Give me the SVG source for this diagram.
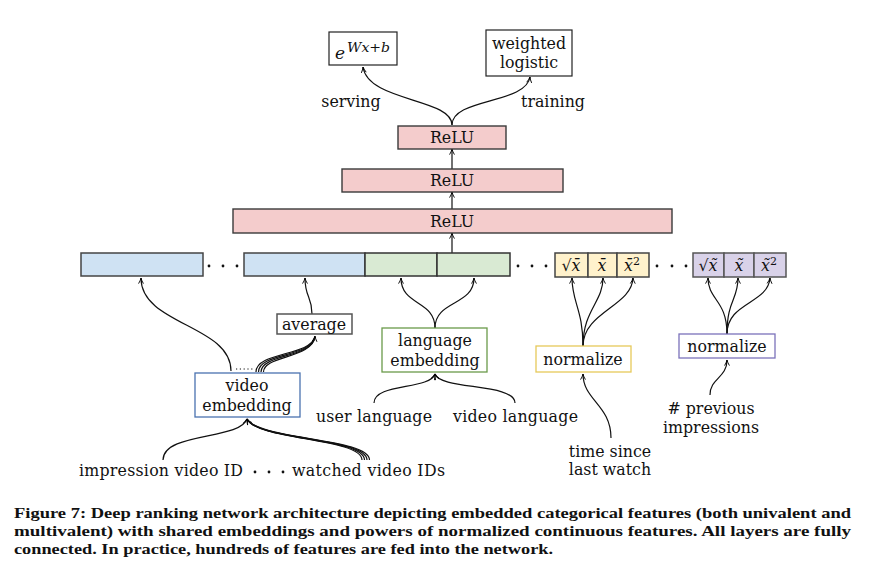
<svg xmlns="http://www.w3.org/2000/svg" width="888" height="571" viewBox="0 0 888 571">
<defs>
<marker id="ah" viewBox="0 0 10 10" refX="9" refY="5" markerWidth="7" markerHeight="7" orient="auto-start-reverse" markerUnits="userSpaceOnUse">
<path d="M1,1.5 Q5,4 9,5 Q5,6 1,8.5" fill="none" stroke="#000" stroke-width="1.3"/>
</marker>
<style>
text{font-family:"DejaVu Serif","Liberation Serif",serif;font-size:15.8px;fill:#111}
.c{text-anchor:middle}
.m{font-style:italic}
.cap{font-family:"Liberation Serif","Times New Roman",serif;font-size:15.5px;font-weight:bold}
.ln{fill:none;stroke:#111;stroke-width:1.2}
.a{marker-end:url(#ah)}
.box{fill:#fff;stroke:#222;stroke-width:1.2}
.relu{fill:#f4cccc;stroke:#3a3a3a;stroke-width:1.4}
.blue{fill:#cfe2f3;stroke:#444;stroke-width:1.5}
.green{fill:#d9ead3;stroke:#333;stroke-width:1.5}
.yellow{fill:#fff2cc;stroke:#444;stroke-width:1.5}
.purple{fill:#d9d2e9;stroke:#555;stroke-width:1.5}
.dot{fill:#111}
</style>
</defs>
<rect width="888" height="571" fill="#fff"/>

<g id="connectors">
<path class="ln a" d="M452,125 C452,98 368,102 363,67"/>
<path class="ln a" d="M452,125 C452,98 526,104 530,77"/>
<path class="ln a" d="M452,169 L452,149"/>
<path class="ln a" d="M452,209 L452,192"/>
<path class="ln a" d="M452,253 L452,233"/>
<path class="ln a" d="M231,371 C231,325 141,325 141,278"/>
<path class="ln a" d="M312,314 C312,296 305,298 305,278"/>
<path class="ln a" d="M435,328 C435,300 401,306 401,278"/>
<path class="ln a" d="M435,328 C435,300 474,306 474,278"/>
<path class="ln" d="M256,372 C256,352 310,356 315,337"/>
<path class="ln" d="M258.5,372 C258.5,353 311,357 315,337"/>
<path class="ln" d="M261,372 C261,354 312,358 315,337"/>
<path class="ln a" d="M263.5,372 C263.5,355 313,359 315,336"/>
<path d="M236,369 L253,369" fill="none" stroke="#111" stroke-width="1" stroke-dasharray="1.2,2.6"/>
<path class="ln a" d="M163,460 C163,432 240,440 247,419"/>
<path class="ln" d="M362,460 C362,438 256,440 247,419"/>
<path class="ln" d="M364.5,460 C364.5,438 257,440 247,419"/>
<path class="ln" d="M367,460 C367,438 258,440 247,419"/>
<path class="ln a" d="M369.5,460 C369.5,438 259,440 247,419"/>
<path class="ln a" d="M374,403 C374,383 430,390 435,374"/>
<path class="ln a" d="M515,403 C515,383 440,390 435,374"/>
<path class="ln a" d="M583,346 C583,310 572,302 572,278"/>
<path class="ln a" d="M583,346 C583,310 603,302 603,278"/>
<path class="ln a" d="M583,346 C583,312 632,306 633,278"/>
<path class="ln a" d="M611,438 C611,405 583,400 583,374"/>
<path class="ln a" d="M727,334 C727,300 708,300 708,278"/>
<path class="ln a" d="M727,334 C727,300 738,300 738,278"/>
<path class="ln a" d="M727,334 C727,302 768,304 770,278"/>
<path class="ln a" d="M710,395 C710,378 727,378 727,360"/>
</g>

<g id="out-serving">
<rect class="box" x="329" y="32" width="68" height="33"/>
<text x="335" y="59" class="m" style="font-size:17px">e</text>
<text x="347" y="52" class="m" style="font-size:13.5px" textLength="43" lengthAdjust="spacingAndGlyphs">Wx+b</text>
</g>
<g id="out-training">
<rect class="box" x="486" y="30" width="86" height="46"/>
<text x="529" y="49" class="c">weighted</text>
<text x="529" y="68" class="c">logistic</text>
</g>
<g id="lbl-serving"><text x="351" y="107" class="c">serving</text></g>
<g id="lbl-training"><text x="553" y="107" class="c">training</text></g>

<g id="relu3"><rect class="relu" x="398" y="126" width="108" height="23"/><text x="452" y="143" class="c">ReLU</text></g>
<g id="relu2"><rect class="relu" x="342" y="169" width="221" height="23"/><text x="452" y="186" class="c">ReLU</text></g>
<g id="relu1"><rect class="relu" x="233" y="209" width="439" height="24"/><text x="452" y="227" class="c">ReLU</text></g>

<g id="emb-row">
<rect class="blue" x="81" y="253" width="122" height="23"/>
<circle class="dot" cx="209" cy="266" r="1.4"/><circle class="dot" cx="223" cy="266" r="1.4"/><circle class="dot" cx="237" cy="266" r="1.4"/>
<rect class="blue" x="244" y="253" width="121" height="23"/>
<rect class="green" x="365" y="253" width="72" height="23"/>
<rect class="green" x="437" y="253" width="73" height="23"/>
<circle class="dot" cx="518" cy="266" r="1.4"/><circle class="dot" cx="532" cy="266" r="1.4"/><circle class="dot" cx="546" cy="266" r="1.4"/>
</g>
<g id="norm-row1">
<rect class="yellow" x="555" y="253" width="33" height="24"/>
<rect class="yellow" x="588" y="253" width="29" height="24"/>
<rect class="yellow" x="617" y="253" width="32" height="24"/>
<text x="571" y="271" class="c">√<tspan class="m">x̄</tspan></text>
<text x="602" y="271" class="c m">x̄</text>
<text x="632" y="271" class="c"><tspan class="m">x̄</tspan><tspan dy="-6" style="font-size:11px">2</tspan></text>
<circle class="dot" cx="657" cy="266" r="1.4"/><circle class="dot" cx="672" cy="266" r="1.4"/><circle class="dot" cx="686" cy="266" r="1.4"/>
</g>
<g id="norm-row2">
<rect class="purple" x="693" y="253" width="31" height="24"/>
<rect class="purple" x="724" y="253" width="30" height="24"/>
<rect class="purple" x="754" y="253" width="32" height="24"/>
<text x="708" y="271" class="c">√<tspan class="m">x̃</tspan></text>
<text x="739" y="271" class="c m">x̃</text>
<text x="769" y="271" class="c"><tspan class="m">x̃</tspan><tspan dy="-6" style="font-size:11px">2</tspan></text>
</g>

<g id="average"><rect x="277" y="314" width="75" height="20" fill="#fff" stroke="#555" stroke-width="1.5"/><text x="314" y="330" class="c">average</text></g>
<g id="language-embedding"><rect x="382" y="328" width="105" height="44" fill="#fff" stroke="#6a9a4a" stroke-width="1.3"/><text x="435" y="346" class="c">language</text><text x="435" y="366" class="c">embedding</text></g>
<g id="video-embedding"><rect x="195" y="373" width="105" height="44" fill="#fff" stroke="#4a72b0" stroke-width="1.3"/><text x="247" y="391" class="c">video</text><text x="247" y="411" class="c">embedding</text></g>
<g id="normalize1"><rect x="536" y="346" width="95" height="26" fill="#fff" stroke="#e6c95a" stroke-width="1.3"/><text x="583" y="365" class="c">normalize</text></g>
<g id="normalize2"><rect x="679" y="334" width="96" height="24" fill="#fff" stroke="#7b72bb" stroke-width="1.3"/><text x="727" y="352" class="c">normalize</text></g>

<g id="inputs">
<text x="316" y="422" textLength="116">user language</text>
<text x="453" y="422" textLength="125">video language</text>
<text x="79" y="476" textLength="164">impression video ID</text>
<circle class="dot" cx="255" cy="472" r="1.4"/><circle class="dot" cx="269" cy="472" r="1.4"/><circle class="dot" cx="283" cy="472" r="1.4"/>
<text x="292" y="476" textLength="153">watched video IDs</text>
<text x="610" y="457" class="c">time since</text>
<text x="610" y="475" class="c">last watch</text>
<text x="711" y="414" class="c"># previous</text>
<text x="711" y="433" class="c">impressions</text>
</g>

<g id="caption">
<text class="cap" x="14" y="518" textLength="837" lengthAdjust="spacingAndGlyphs">Figure 7: Deep ranking network architecture depicting embedded categorical features (both univalent and</text>
<text class="cap" x="14" y="536" textLength="837" lengthAdjust="spacingAndGlyphs">multivalent) with shared embeddings and powers of normalized continuous features.  All layers are fully</text>
<text class="cap" x="14" y="554" textLength="539" lengthAdjust="spacingAndGlyphs">connected. In practice, hundreds of features are fed into the network.</text>
</g>
</svg>
